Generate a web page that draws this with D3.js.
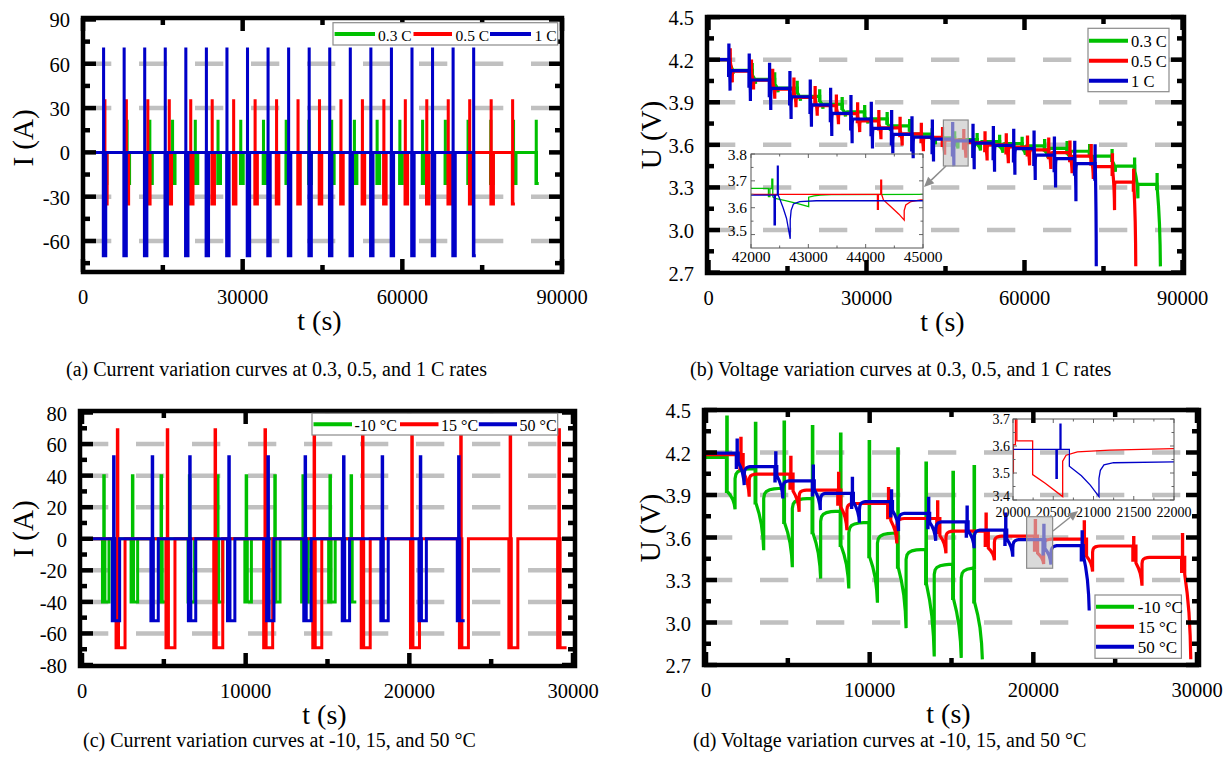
<!DOCTYPE html>
<html><head><meta charset="utf-8">
<script src="https://cdn.jsdelivr.net/npm/d3@7"></script>
<style>
body{margin:0;background:#fff}
svg text{font-family:"Liberation Serif","Times New Roman",serif;fill:#000}
</style></head>
<body><svg id="c" width="1229" height="774"></svg>
<script>
// ---------------- series labels ----------------
const rateNames = ["0.3 C", "0.5 C", "1 C"];
const tempNames = ["-10 °C", "15 °C", "50 °C"];
const colors = ["#00c000", "#ff0000", "#0000c8"];

// ---------------- rate test (panels a, b) ----------------
const rateCurrent = [21, 35, 70];   // pulse / discharge current, A
const rateTimes = [
  [3960, 8231, 12502, 16773, 21044, 25315, 29586, 33857, 38128, 42399, 46670, 50941, 55212, 59483, 63754, 68025, 72296, 76567, 80838, 85109],
  [4060, 8092, 12124, 16156, 20188, 24220, 28252, 32284, 36316, 40348, 44380, 48412, 52444, 56476, 60508, 64540, 68572, 72604, 76636, 80668],
  [3814, 7677, 11540, 15403, 19266, 23129, 26992, 30855, 34718, 38581, 42444, 46307, 50170, 54033, 57896, 61759, 65622, 69485, 73348]
];
// rest voltage before each pulse, charge-pulse peak, end-of-discharge minimum
const rateLevel = [
  [4.20, 4.125, 4.062, 4.00, 3.942, 3.886, 3.832, 3.783, 3.733, 3.675, 3.65, 3.637, 3.623, 3.608, 3.593, 3.575, 3.555, 3.52, 3.45, 3.322],
  [4.20, 4.12, 4.055, 3.993, 3.935, 3.876, 3.82, 3.768, 3.72, 3.678, 3.652, 3.633, 3.615, 3.60, 3.585, 3.565, 3.545, 3.52, 3.447, 3.337],
  [4.20, 4.123, 4.057, 3.998, 3.939, 3.881, 3.822, 3.782, 3.716, 3.674, 3.655, 3.640, 3.628, 3.612, 3.597, 3.573, 3.528, 3.503, 3.468]
];
const ratePeak = [
  [4.24, 4.165, 4.10, 4.04, 3.98, 3.925, 3.87, 3.82, 3.77, 3.706, 3.685, 3.672, 3.66, 3.645, 3.63, 3.615, 3.595, 3.56, 3.50, 3.39],
  [4.27, 4.19, 4.125, 4.063, 4.003, 3.944, 3.888, 3.835, 3.787, 3.744, 3.715, 3.70, 3.685, 3.67, 3.655, 3.64, 3.62, 3.595, 3.53, 3.42],
  [4.303, 4.233, 4.167, 4.109, 4.050, 3.991, 3.940, 3.893, 3.834, 3.790, 3.768, 3.750, 3.737, 3.722, 3.702, 3.690, 3.648, 3.618, 3.593]
];
const rateMin = [
  [4.10, 4.03, 3.97, 3.91, 3.855, 3.80, 3.75, 3.70, 3.65, 3.604, 3.575, 3.56, 3.545, 3.53, 3.51, 3.49, 3.46, 3.41, 3.223, 2.744],
  [4.04, 3.99, 3.925, 3.865, 3.805, 3.745, 3.69, 3.64, 3.595, 3.555, 3.53, 3.51, 3.49, 3.47, 3.455, 3.43, 3.40, 3.36, 3.14, 2.744],
  [3.982, 3.909, 3.846, 3.782, 3.728, 3.662, 3.611, 3.575, 3.540, 3.505, 3.482, 3.450, 3.428, 3.411, 3.390, 3.353, 3.300, 3.202, 2.744]
];
// zoomed detail 42000-45000 s : [t, U]
const rateDetail = [
  [[42000,3.672],[42304,3.672],[42304,3.641],[42330,3.641],[42330,3.672],[42363,3.672],[42363,3.706],[42380,3.706],[42380,3.640],[42421,3.635],[42600,3.626],[42800,3.616],[43006,3.604],[43006,3.639],[43100,3.644],[43210,3.647],[43400,3.649],[45000,3.650]],
  [[42000,3.650],[44205,3.650],[44205,3.594],[44222,3.594],[44222,3.650],[44263,3.650],[44263,3.703],[44278,3.703],[44278,3.650],[44310,3.629],[44450,3.602],[44580,3.576],[44672,3.554],[44672,3.589],[44700,3.610],[44790,3.623],[44960,3.629],[45000,3.629]],
  [[42000,3.647],[42403,3.647],[42403,3.536],[42425,3.536],[42425,3.647],[42460,3.647],[42460,3.755],[42475,3.755],[42475,3.647],[42509,3.629],[42560,3.600],[42620,3.560],[42684,3.484],[42684,3.554],[42700,3.590],[42740,3.614],[42850,3.623],[43140,3.626],[45000,3.626]]
];

// ---------------- temperature test (panels c, d) ----------------
const tempCurrent = [40, 69, 52];
const tempTimes = [
  [1250, 3000, 4750, 6480, 8200, 9950, 11700, 13420, 15070, 16360],
  [2080, 5130, 8050, 11100, 14100, 17060, 20070, 23060, 26080, 29060],
  [1850, 4210, 6500, 8890, 11280, 13550, 15900, 18260, 20590, 22930]
];
const tempLevel = [
  [4.166, 4.085, 3.946, 3.875, 3.785, 3.705, 3.63, 3.515, 3.41, 3.385],
  [4.185, 4.048, 3.935, 3.84, 3.734, 3.645, 3.61, 3.588, 3.54, 3.46],
  [4.195, 4.10, 4.00, 3.912, 3.853, 3.77, 3.71, 3.652, 3.585, 3.542]
];
const tempPeak = [
  [4.45, 4.405, 4.415, 4.383, 4.33, 4.277, 4.225, 4.125, 4.06, 4.10],
  [4.30, 4.165, 4.052, 3.946, 3.852, 3.765, 3.72, 3.71, 3.60, 3.62],
  [4.288, 4.198, 4.104, 4.017, 3.93, 3.876, 3.815, 3.765, 3.685, 3.64]
];
const tempMin = [
  [3.80, 3.51, 3.39, 3.31, 3.24, 3.14, 2.96, 2.76, 2.75, 2.74],
  [3.888, 3.782, 3.652, 3.558, 3.488, 3.44, 3.4125, 3.36, 3.26, 2.74],
  [3.97, 3.876, 3.794, 3.705, 3.646, 3.577, 3.525, 3.465, 3.41, 3.085]
];
// zoomed detail 20000-22000 s (15 °C and 50 °C)
const tempDetail = [
  null,
  [[20000,3.50],[20005,3.50],[20005,3.605],[20030,3.605],[20030,3.72],[20048,3.72],[20048,3.619],[20244,3.619],[20244,3.494],[20400,3.462],[20617,3.4125],[20617,3.544],[20660,3.566],[20800,3.578],[21200,3.585],[22000,3.590]],
  [[20000,3.5875],[20534,3.5875],[20534,3.48],[20550,3.48],[20550,3.5875],[20584,3.5875],[20584,3.681],[20596,3.681],[20596,3.5875],[20700,3.5875],[20700,3.525],[20850,3.49],[20960,3.455],[21068,3.4125],[21068,3.48],[21085,3.51],[21130,3.53],[21250,3.538],[22000,3.541]]
];

// ---------------- axes ----------------
const xTicksRate = [0, 30000, 60000, 90000], xMinorRate = [15000, 45000, 75000];
const xTicksTemp = [0, 10000, 20000, 30000], xMinorTemp = [5000, 15000, 25000];
const yTicksA = [-60, -30, 0, 30, 60, 90], yMinorA = [-75, -45, -15, 15, 45, 75], gridA = [-60, -30, 30, 60];
const yTicksC = [-80, -60, -40, -20, 0, 20, 40, 60, 80], yMinorC = [-70, -50, -30, -10, 10, 30, 50, 70], gridC = [-60, -40, -20, 20, 40, 60];
const yTicksU = [2.7, 3.0, 3.3, 3.6, 3.9, 4.2, 4.5], yMinorU = [2.85, 3.15, 3.45, 3.75, 4.05, 4.35], gridU = [3.0, 3.3, 3.6, 3.9, 4.2];
const insetB = { x: [42000, 43000, 44000, 45000], y: [3.5, 3.6, 3.7, 3.8] };
const insetD = { x: [20000, 20500, 21000, 21500, 22000], y: [3.4, 3.5, 3.6, 3.7] };
const captions = [
  "(a) Current variation curves at 0.3, 0.5, and 1 C rates",
  "(b) Voltage variation curves at 0.3, 0.5, and 1 C rates",
  "(c) Current variation curves at -10, 15, and 50 °C",
  "(d) Voltage variation curves at -10, 15, and 50 °C"
];

// ---------------- path builders ----------------
// current step trace: discharge pulse, charge pulse, then the SOC discharge step
function currentTrace(times, I, w, D) {
  const P = [[0, 0]];
  times.forEach((t, k) => {
    P.push([t, 0], [t, -I], [t + w[0], -I], [t + w[0], 0], [t + w[1], 0], [t + w[1], I],
           [t + w[2], I], [t + w[2], 0], [t + w[3], 0], [t + w[3], -I], [t + w[3] + D, -I]);
    if (k < times.length - 1) P.push([t + w[3] + D, 0]);
  });
  return P;
}
const DESC = [[0, 0], [0.4, 0.22], [0.7, 0.45], [0.9, 0.72], [1, 1]];
const REC = [[0, 0], [0.06, 0.45], [0.18, 0.7], [0.4, 0.87], [0.7, 0.96], [1, 1]];
function voltageTrace(times, lev, peak, mn, s) {
  const P = [[0, lev[0]]];
  times.forEach((t, k) => {
    const V0 = lev[k], Vs = V0 - s.drop;
    let t0;
    if (s.direct) {
      P.push([t, V0], [t, Vs], [t + s.a, Vs], [t + s.a, peak[k]], [t + s.b, peak[k]], [t + s.b, Vs]);
      t0 = t + s.b;
    } else {
      P.push([t, V0], [t, V0 - s.dip], [t + s.a, V0 - s.dip], [t + s.a, V0], [t + s.b, V0],
             [t + s.b, peak[k]], [t + s.c, peak[k]], [t + s.c, V0], [t + s.f, V0], [t + s.f, Vs]);
      t0 = t + s.f;
    }
    DESC.forEach(([ft, fv]) => P.push([t0 + s.D * ft, Vs + (mn[k] - Vs) * fv]));
    if (k < times.length - 1) {
      const V1 = lev[k + 1], tE = t0 + s.D;
      REC.forEach(([ft, fv]) => P.push([tE + s.R * ft, V1 - s.jump * (1 - fv)]));
    }
  });
  return P;
}
const shapeB = [
  { dip: 0.03, a: 25, b: 60, c: 75, f: 110, drop: 0.035, D: 585, jump: 0.012, R: 300 },
  { dip: 0.056, a: 20, b: 55, c: 70, f: 100, drop: 0.02, D: 360, jump: 0.04, R: 250 },
  { dip: 0.11, a: 20, b: 50, c: 65, f: 100, drop: 0.02, D: 180, jump: 0.07, R: 200 }
];
const shapeD = [
  { direct: true, drop: 0.24, a: 20, b: 45, D: 480, jump: 0.07, R: 900 },
  { dip: 0.1, a: 15, b: 50, c: 62, f: 190, drop: 0.12, D: 370, jump: 0.045, R: 450 },
  { dip: 0.1, a: 15, b: 50, c: 62, f: 116, drop: 0.062, D: 368, jump: 0.06, R: 350 }
];

// ---------------- drawing helpers ----------------
const svg = d3.select("#c");
svg.append("rect").attr("width", 1229).attr("height", 774).attr("fill", "#fff");
let clipId = 0;
function clip(x0, y0, x1, y1) {
  const id = "clip" + (clipId++);
  svg.append("clipPath").attr("id", id).append("rect")
    .attr("x", x0).attr("y", y0).attr("width", x1 - x0).attr("height", y1 - y0);
  return "url(#" + id + ")";
}
function grid(g, f, ys, vals) {
  g.selectAll(null).data(vals).join("line")
    .attr("x1", f.x0).attr("x2", f.x1).attr("y1", d => ys(d)).attr("y2", d => ys(d))
    .attr("stroke", "#c0c0c0").attr("stroke-width", 4.5).attr("stroke-dasharray", "28.3 27.7");
}
function traces(g, f, xs, ys, data, width) {
  const line = d3.line().x(d => xs(d[0])).y(d => ys(d[1]));
  const cg = g.append("g").attr("clip-path", clip(f.x0, f.y0, f.x1, f.y1));
  data.forEach((d, i) => {
    if (!d) return;
    cg.append("path").attr("d", line(d)).attr("fill", "none").attr("stroke", colors[i])
      .attr("stroke-width", width).attr("stroke-linejoin", "miter").attr("stroke-miterlimit", 2);
  });
}
function frame(g, f, xs, ys, xMaj, xMin, yMaj, yMin, fmt) {
  const T = 13, t = 7, sw = 4.5;
  const tick = (x1, y1, x2, y2) => g.append("line").attr("x1", x1).attr("y1", y1).attr("x2", x2).attr("y2", y2)
    .attr("stroke", "#000").attr("stroke-width", sw);
  xMaj.forEach(v => { const x = xs(v); tick(x, f.y1, x, f.y1 - T); tick(x, f.y0, x, f.y0 + T); });
  xMin.forEach(v => { const x = xs(v); tick(x, f.y1, x, f.y1 - t); tick(x, f.y0, x, f.y0 + t); });
  yMaj.forEach(v => { const y = ys(v); tick(f.x0, y, f.x0 + T, y); tick(f.x1, y, f.x1 - T, y); });
  yMin.forEach(v => { const y = ys(v); tick(f.x0, y, f.x0 + t, y); tick(f.x1, y, f.x1 - t, y); });
  g.append("rect").attr("x", f.x0).attr("y", f.y0).attr("width", f.x1 - f.x0).attr("height", f.y1 - f.y0)
    .attr("fill", "none").attr("stroke", "#000").attr("stroke-width", sw);
  g.selectAll(null).data(xMaj).join("text").attr("x", d => xs(d)).attr("y", f.y1 + 25)
    .attr("text-anchor", "middle").attr("dominant-baseline", "central").attr("font-size", 20.5).text(d => d);
  g.selectAll(null).data(yMaj).join("text").attr("x", f.x0 - 13).attr("y", d => ys(d) + 1)
    .attr("text-anchor", "end").attr("dominant-baseline", "central").attr("font-size", 20.5).text(fmt);
}
function titles(g, f, yt, ytx, yty) {
  g.append("text").attr("x", (f.x0 + f.x1) / 2 - 3).attr("y", f.y1 + 48).attr("text-anchor", "middle")
    .attr("dominant-baseline", "central").attr("font-size", 28).text("t (s)");
  g.append("text").attr("transform", `translate(${ytx},${yty}) rotate(-90)`).attr("text-anchor", "middle")
    .attr("dominant-baseline", "central").attr("font-size", 29).text(yt);
}
function legendRow(g, box, names, lx, tx, ly, fs) {
  g.append("rect").attr("x", box[0]).attr("y", box[1]).attr("width", box[2] - box[0]).attr("height", box[3] - box[1])
    .attr("fill", "#fff").attr("stroke", "#8a8a8a").attr("stroke-width", 1.2);
  names.forEach((n, i) => {
    g.append("line").attr("x1", lx[i][0]).attr("x2", lx[i][1]).attr("y1", ly[i]).attr("y2", ly[i])
      .attr("stroke", colors[i]).attr("stroke-width", 4);
    g.append("text").attr("x", tx[i]).attr("y", ly[i] + 1).attr("dominant-baseline", "central")
      .attr("font-size", fs).text(n);
  });
}
function inset(g, f, xs, ys, data, ticks, fs, ylx, xly) {
  const line = d3.line().x(d => xs(d[0])).y(d => ys(d[1]));
  const cg = g.append("g").attr("clip-path", clip(f.x0, f.y0, f.x1, f.y1));
  data.forEach((d, i) => {
    if (!d) return;
    cg.append("path").attr("d", line(d)).attr("fill", "none").attr("stroke", colors[i]).attr("stroke-width", 1.3);
  });
  const tk = (x1, y1, x2, y2) => g.append("line").attr("x1", x1).attr("y1", y1).attr("x2", x2).attr("y2", y2)
    .attr("stroke", "#666").attr("stroke-width", 1);
  const xs2 = ticks.x.slice(1).map((v, i) => (v + ticks.x[i]) / 2);
  const ys2 = ticks.y.slice(1).map((v, i) => (v + ticks.y[i]) / 2);
  ticks.x.forEach(v => { tk(xs(v), f.y1, xs(v), f.y1 - 4); tk(xs(v), f.y0, xs(v), f.y0 + 4); });
  xs2.forEach(v => { tk(xs(v), f.y1, xs(v), f.y1 - 2.5); tk(xs(v), f.y0, xs(v), f.y0 + 2.5); });
  ticks.y.forEach(v => { tk(f.x0, ys(v), f.x0 + 4, ys(v)); tk(f.x1, ys(v), f.x1 - 4, ys(v)); });
  ys2.forEach(v => { tk(f.x0, ys(v), f.x0 + 2.5, ys(v)); tk(f.x1, ys(v), f.x1 - 2.5, ys(v)); });
  g.append("rect").attr("x", f.x0).attr("y", f.y0).attr("width", f.x1 - f.x0).attr("height", f.y1 - f.y0)
    .attr("fill", "none").attr("stroke", "#555").attr("stroke-width", 1);
  g.selectAll(null).data(ticks.x).join("text").attr("x", d => xs(d)).attr("y", xly)
    .attr("text-anchor", "middle").attr("dominant-baseline", "central").attr("font-size", fs).text(d => d);
  // lowest value label sits a little higher so it clears the time labels below
  g.selectAll(null).data(ticks.y).join("text").attr("x", ylx)
    .attr("y", (d, i) => ys(d) - (i === 0 ? 4 : 0))
    .attr("text-anchor", "end").attr("dominant-baseline", "central").attr("font-size", fs).text(d => d.toFixed(1));
}
function zoomMark(g, xs, ys, t0, t1, v0, v1, from, to) {
  g.append("rect").attr("x", xs(t0)).attr("y", ys(v1)).attr("width", xs(t1) - xs(t0)).attr("height", ys(v0) - ys(v1))
    .attr("fill", "#c4c4c4").attr("fill-opacity", 0.62).attr("stroke", "#8c8c8c").attr("stroke-width", 1.2);
  const ang = Math.atan2(to[1] - from[1], to[0] - from[0]);
  const L = 10, Wd = 4.5;
  const bx = to[0] - L * Math.cos(ang), by = to[1] - L * Math.sin(ang);
  g.append("line").attr("x1", from[0]).attr("y1", from[1]).attr("x2", bx).attr("y2", by)
    .attr("stroke", "#8c8c8c").attr("stroke-width", 1.5);
  g.append("path").attr("d", d3.line()([[to[0], to[1]],
      [bx + Wd * Math.sin(ang), by - Wd * Math.cos(ang)], [bx - Wd * Math.sin(ang), by + Wd * Math.cos(ang)]]) + "Z")
    .attr("fill", "#8c8c8c");
}
const f1 = d => d.toFixed(1);

// ---------------- (a) current, C-rates ----------------
{
  const f = { x0: 83, x1: 562, y0: 18, y1: 272 };
  const xs = d3.scaleLinear([0, 90000], [83, 562]), ys = d3.scaleLinear([-81, 91], [272, 18]);
  const g = svg.append("g");
  grid(g, f, ys, gridA);
  const D = [420, 380, 360];
  traces(g, f, xs, ys, rateTimes.map((tt, i) => currentTrace(tt, rateCurrent[i], [10, 50, 60, 100], D[i])), 3);
  frame(g, f, xs, ys, xTicksRate, xMinorRate, yTicksA, yMinorA, d => d);
  titles(g, f, "I (A)", 23, 138);
  legendRow(g, [333, 22.7, 557.7, 45], rateNames, [[334.6, 375], [413.5, 452], [490, 531]], [378, 455.5, 534.5], [34, 34, 34], 15.5);
}

// ---------------- (b) voltage, C-rates ----------------
{
  const f = { x0: 707, x1: 1184, y0: 17, y1: 273 };
  const xs = d3.scaleLinear([0, 90000], [708.5, 1182.5]), ys = d3.scaleLinear([2.7, 4.5], [272.6, 17.1]);
  const g = svg.append("g");
  grid(g, f, ys, gridU);
  traces(g, f, xs, ys, rateTimes.map((tt, i) => voltageTrace(tt, rateLevel[i], ratePeak[i], rateMin[i], shapeB[i])), 3.2);
  const fi = { x0: 751, x1: 923, y0: 154, y1: 248 };
  inset(g, fi, d3.scaleLinear([42000, 45000], [751, 923]), d3.scaleLinear([3.45, 3.8], [248, 154]),
        rateDetail, insetB, 15.5, 747, 256.5);
  zoomMark(g, xs, ys, 44600, 49300, 3.451, 3.775, [946, 166], [924, 187]);
  frame(g, f, xs, ys, xTicksRate, xMinorRate, yTicksU, yMinorU, f1);
  titles(g, f, "U (V)", 651, 135);
  legendRow(g, [1088, 28.3, 1169, 91.7], rateNames, [[1089, 1128], [1089, 1128], [1089, 1128]], [1131, 1131, 1131], [40.7, 60.7, 80.7], 16.5);
}

// ---------------- (c) current, temperatures ----------------
{
  const f = { x0: 80, x1: 575, y0: 411, y1: 666 };
  const xs = d3.scaleLinear([0, 30000], [82, 573]), ys = d3.scaleLinear([-80, 80], [665, 412.5]);
  const g = svg.append("g");
  grid(g, f, ys, gridC);
  const D = [250, 400, 300];
  traces(g, f, xs, ys, tempTimes.map((tt, i) => currentTrace(tt, tempCurrent[i], [40, 80, 110, 150], D[i])), 3);
  frame(g, f, xs, ys, xTicksTemp, xMinorTemp, yTicksC, yMinorC, d => d);
  titles(g, f, "I (A)", 23, 529);
  legendRow(g, [312, 413.3, 557.7, 435], tempNames, [[313.5, 352], [400, 438.5], [478.8, 517]], [354.5, 441, 519.5], [424.3, 424.3, 424.3], 16);
}

// ---------------- (d) voltage, temperatures ----------------
{
  const f = { x0: 704, x1: 1199, y0: 410, y1: 665 };
  const xs = d3.scaleLinear([0, 30000], [706, 1197]), ys = d3.scaleLinear([2.7, 4.5], [665, 410]);
  const g = svg.append("g");
  grid(g, f, ys, gridU);
  traces(g, f, xs, ys, tempTimes.map((tt, i) => voltageTrace(tt, tempLevel[i], tempPeak[i], tempMin[i], shapeD[i])), 3.2);
  const fi = { x0: 1013, x1: 1174, y0: 419, y1: 500 };
  inset(g, fi, d3.scaleLinear([20000, 22000], [1013, 1174]), d3.scaleLinear([3.4, 3.7], [500, 419]),
        tempDetail, insetD, 14, 1010, 512);
  zoomMark(g, xs, ys, 19590, 21180, 3.383, 3.747, [1053, 531], [1078, 511]);
  frame(g, f, xs, ys, xTicksTemp, xMinorTemp, yTicksU, yMinorU, f1);
  titles(g, f, "U (V)", 650, 528);
  legendRow(g, [1095, 595, 1181.4, 658.3], tempNames, [[1096, 1134], [1096, 1134], [1096, 1134]], [1137.8, 1137.8, 1137.8], [606.7, 626.7, 646.7], 17);
}

// ---------------- captions ----------------
[[66, 369], [690, 369], [83, 740], [693, 740]].forEach((p, i) => {
  svg.append("text").attr("x", p[0]).attr("y", p[1]).attr("dominant-baseline", "central")
    .attr("font-size", 20).text(captions[i]);
});
</script></body></html>
